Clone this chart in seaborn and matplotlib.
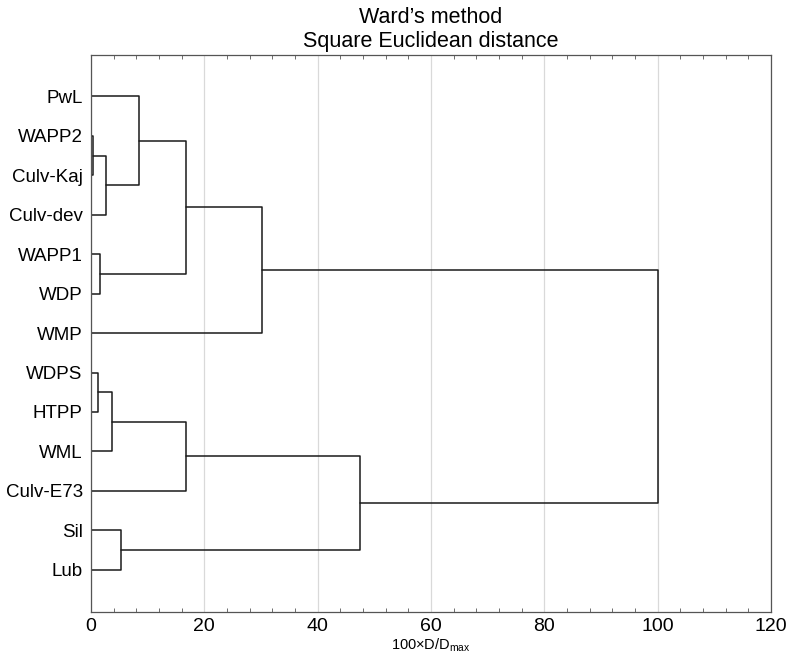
import numpy as np
import pandas as pd
import matplotlib
matplotlib.use('Agg')
import matplotlib.pyplot as plt
from matplotlib.ticker import MultipleLocator
import seaborn as sns

# Leaves, top to bottom
leaves = ['PwL', 'WAPP2', 'Culv-Kaj', 'Culv-dev', 'WAPP1', 'WDP', 'WMP',
          'WDPS', 'HTPP', 'WML', 'Culv-E73', 'Sil', 'Lub']

# Linkage steps: node ids 0..12 are leaves, each merge creates node 13, 14, ...
merge_left = [1, 13, 0, 4, 15, 17, 7, 19, 20, 11, 21, 18]
merge_right = [2, 3, 14, 5, 16, 6, 8, 9, 10, 12, 22, 23]
merge_height = [0.4, 2.6, 8.4, 1.5, 16.7, 30.2, 1.2, 3.7, 16.7, 5.3, 47.5, 100.0]

# Build the dendrogram segments
pos = {i: float(i) for i in range(len(leaves))}
hgt = {i: 0.0 for i in range(len(leaves))}
rows = []
for k, (a, b, h) in enumerate(zip(merge_left, merge_right, merge_height)):
    node = len(leaves) + k
    xs = [hgt[a], h, h, hgt[b]]
    ys = [pos[a], pos[a], pos[b], pos[b]]
    for j, (x, y) in enumerate(zip(xs, ys)):
        rows.append({'x': x, 'y': y, 'seg': k, 'order': j})
    pos[node] = (pos[a] + pos[b]) / 2
    hgt[node] = h
df = pd.DataFrame(rows)

sns.set_style('white')
plt.rcParams['font.family'] = ['Liberation Sans', 'DejaVu Sans']
plt.rcParams['mathtext.fontset'] = 'custom'
plt.rcParams['mathtext.rm'] = 'Liberation Sans'
plt.rcParams['text.color'] = 'black'
plt.rcParams['xtick.color'] = 'black'
plt.rcParams['ytick.color'] = 'black'
plt.rcParams['axes.labelcolor'] = 'black'

fig = plt.figure(figsize=(7.88, 6.63), dpi=100)
ax = fig.add_axes([0.1155, 0.077, 0.863, 0.84])

sns.lineplot(data=df, x='x', y='y', units='seg', estimator=None, sort=False,
             color='#1a1a1a', linewidth=1.1, ax=ax)

ax.set_xlim(0, 120)
ax.set_ylim(len(leaves) - 1 + 1.07, -1.05)
ax.set_yticks(range(len(leaves)))
ax.set_yticklabels(leaves, fontsize=13.5)
ax.tick_params(axis='y', length=0, pad=6)

ax.xaxis.set_major_locator(MultipleLocator(20))
ax.xaxis.set_minor_locator(MultipleLocator(4))
ax.tick_params(axis='x', which='both', direction='in', top=True, bottom=True, pad=4)
ax.tick_params(axis='x', which='major', length=0, labelsize=14)
ax.tick_params(axis='x', which='minor', length=3, width=0.6, color='#555555')

ax.grid(True, axis='x', which='major', color='#d9d9d9', linewidth=0.9)
ax.set_axisbelow(True)
for s in ax.spines.values():
    s.set_color('#555555')
    s.set_linewidth(0.9)

ax.set_xlabel('100×D/D$_{\\rm max}$', fontsize=10.5, labelpad=1)
ax.set_ylabel('')
ax.set_title("Ward’s method\nSquare Euclidean distance", fontsize=15.5, pad=6,
             linespacing=1.15)

fig.savefig('out.png', dpi=100)
